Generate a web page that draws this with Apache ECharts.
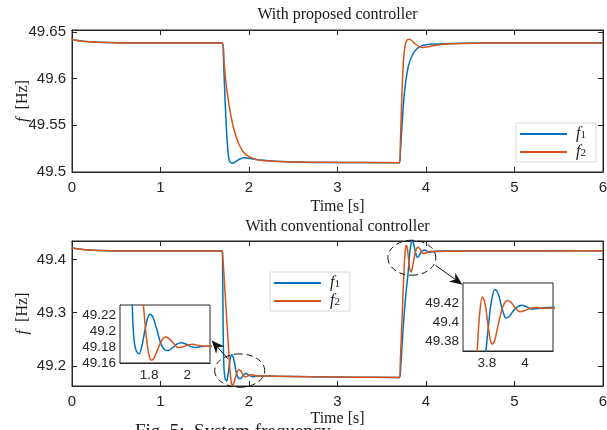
<!DOCTYPE html>
<html>
<head>
<meta charset="utf-8">
<script src="https://cdn.jsdelivr.net/npm/echarts@6/dist/echarts.min.js"></script>
<style>
  html, body { margin: 0; padding: 0; background: #fff; }
  #chart { width: 607px; height: 430px; }
</style>
</head>
<body>
<div id="chart"></div>
<script>
// ---- Frequency traces, time in s, frequency in Hz ----
// With proposed controller
const tProposedF1 = [0, 0.1, 0.2, 0.4, 0.7, 1.70, 1.71, 1.72, 1.74, 1.76, 1.78, 1.81, 1.84, 1.88, 1.94, 2.0, 2.1, 2.3, 2.6, 3.0, 3.70, 3.71, 3.72, 3.74, 3.76, 3.80, 3.85, 3.90, 3.95, 4.0, 4.1, 4.3, 4.6, 6.0];
const proposedF1  = [49.6418, 49.6402, 49.6393, 49.6385, 49.638, 49.638, 49.625, 49.600, 49.555, 49.525, 49.512, 49.5094, 49.5105, 49.513, 49.5152, 49.5147, 49.513, 49.5115, 49.5105, 49.5102, 49.510, 49.52, 49.536, 49.566, 49.588, 49.613, 49.626, 49.6322, 49.635, 49.6362, 49.637, 49.6376, 49.638, 49.638];
const tProposedF2 = [0, 0.1, 0.2, 0.4, 0.7, 1.70, 1.72, 1.75, 1.80, 1.85, 1.90, 1.95, 2.0, 2.1, 2.2, 2.4, 3.0, 3.70, 3.71, 3.72, 3.73, 3.75, 3.77, 3.79, 3.81, 3.84, 3.88, 3.93, 3.97, 4.02, 4.1, 4.2, 4.4, 4.7, 6.0];
const proposedF2  = [49.6418, 49.6402, 49.6393, 49.6385, 49.638, 49.638, 49.615, 49.588, 49.558, 49.539, 49.527, 49.520, 49.5165, 49.513, 49.512, 49.511, 49.5103, 49.510, 49.53, 49.56, 49.588, 49.625, 49.638, 49.6415, 49.642, 49.6405, 49.637, 49.634, 49.6333, 49.634, 49.6355, 49.6367, 49.6376, 49.638, 49.638];

// With conventional controller
const tConvF1 = [0, 0.1, 0.25, 0.5, 0.8, 1.695, 1.70, 1.703, 1.707, 1.71, 1.715, 1.722, 1.732, 1.746, 1.76, 1.775, 1.79, 1.805, 1.82, 1.84, 1.86, 1.88, 1.899, 1.92, 1.945, 1.969, 1.995, 2.02, 2.045, 2.075, 2.11, 2.3, 2.7, 3.2, 3.70, 3.715, 3.73, 3.75, 3.77, 3.785, 3.795, 3.81, 3.825, 3.842, 3.86, 3.875, 3.89, 3.9, 3.915, 3.935, 3.96, 3.983, 4.01, 4.036, 4.065, 4.1, 4.2, 4.6, 6.0];
const convF1  = [49.422, 49.4195, 49.4175, 49.4163, 49.416, 49.416, 49.41, 49.36, 49.29, 49.24, 49.205, 49.185, 49.175, 49.1715, 49.18, 49.198, 49.215, 49.221, 49.217, 49.202, 49.185, 49.177, 49.1755, 49.1785, 49.1835, 49.1855, 49.1835, 49.1805, 49.1795, 49.1805, 49.181, 49.1805, 49.1795, 49.1785, 49.178, 49.20, 49.24, 49.29, 49.33, 49.355, 49.37, 49.40, 49.424, 49.435, 49.43, 49.418, 49.408, 49.4045, 49.4055, 49.411, 49.4163, 49.4182, 49.4163, 49.4138, 49.4145, 49.4155, 49.416, 49.4163, 49.4165];
const tConvF2 = [0, 0.1, 0.25, 0.5, 0.8, 1.695, 1.70, 1.71, 1.725, 1.74, 1.755, 1.769, 1.785, 1.80, 1.812, 1.825, 1.845, 1.865, 1.885, 1.905, 1.93, 1.951, 1.975, 2.0, 2.03, 2.06, 2.1, 2.3, 2.7, 3.2, 3.70, 3.71, 3.72, 3.73, 3.74, 3.749, 3.76, 3.776, 3.79, 3.805, 3.818, 3.828, 3.84, 3.86, 3.885, 3.909, 3.93, 3.952, 3.974, 4.0, 4.03, 4.06, 4.1, 4.2, 4.5, 6.0];
const convF2  = [49.422, 49.4195, 49.4175, 49.4163, 49.416, 49.416, 49.414, 49.39, 49.35, 49.31, 49.27, 49.233, 49.192, 49.1685, 49.1634, 49.166, 49.177, 49.188, 49.1926, 49.1905, 49.184, 49.1793, 49.18, 49.1822, 49.1834, 49.182, 49.181, 49.1805, 49.1795, 49.1785, 49.178, 49.21, 49.25, 49.29, 49.335, 49.37, 49.405, 49.427, 49.42, 49.398, 49.381, 49.3768, 49.38, 49.398, 49.417, 49.4232, 49.4205, 49.4145, 49.4112, 49.4125, 49.415, 49.4157, 49.415, 49.4155, 49.416, 49.4165];

// ---- Tick values and labels ----
const timeTicks = [0, 1, 2, 3, 4, 5, 6];
const timeTickLabels = ['0', '1', '2', '3', '4', '5', '6'];
const propTicks = [49.5, 49.55, 49.6, 49.65];
const propTickLabels = ['49.5', '49.55', '49.6', '49.65'];
const convTicks = [49.2, 49.3, 49.4];
const convTickLabels = ['49.2', '49.3', '49.4'];
const zoomDropTimeTicks = [1.8, 2.0];
const zoomDropTimeLabels = ['1.8', '2'];
const zoomDropTicks = [49.16, 49.18, 49.2, 49.22];
const zoomDropTickLabels = ['49.16', '49.18', '49.2', '49.22'];
const zoomRiseTimeTicks = [3.8, 4.0];
const zoomRiseTimeLabels = ['3.8', '4'];
const zoomRiseTicks = [49.38, 49.4, 49.42];
const zoomRiseTickLabels = ['49.38', '49.4', '49.42'];

const seriesNames = ['f1', 'f2'];

// ---- Styling ----
const BLUE = '#0072BD';
const ORANGE = '#D95319';
const INK = '#262626';
const SANS = '"Liberation Sans", Arial, sans-serif';
const SERIF = '"Liberation Serif", "Times New Roman", serif';

const pair = (ts, vs) => ts.map((t, i) => [t, vs[i]]);
const lookup = (vals, labels) => v => {
  const i = vals.findIndex(x => Math.abs(x - v) < 1e-6);
  return i >= 0 ? labels[i] : '';
};

function axis(o) {
  const base = {
    type: 'value',
    gridIndex: o.grid,
    min: o.min,
    max: o.max,
    position: o.position,
    axisLine: { show: true, onZero: false, lineStyle: { color: INK, width: 1 } },
    splitLine: { show: false },
    axisTick: {
      show: true, inside: true, length: o.tickLen || 5,
      lineStyle: { color: INK, width: 1 },
      customValues: o.ticks
    },
    axisLabel: o.labels ? {
      show: true,
      customValues: o.ticks,
      formatter: lookup(o.ticks, o.labels),
      fontFamily: SANS, fontSize: o.fontSize || 15, color: INK,
      margin: o.margin || 6,
      showMinLabel: true, showMaxLabel: true
    } : { show: false }
  };
  return Object.assign(base, o.extra || {});
}

const nameStyleX = { fontFamily: SERIF, fontSize: 16, color: '#1a1a1a' };
const nameStyleY = {
  fontFamily: SERIF, fontSize: 16, color: '#1a1a1a',
  rich: { i: { fontFamily: SERIF, fontStyle: 'italic', fontSize: 16, color: '#1a1a1a' } }
};
const yName = { name: '{i|f}  [Hz]', nameLocation: 'middle', nameGap: 41, nameRotate: 90,
  nameMoveOverlap: false, nameTextStyle: nameStyleY };

const gridBox = { show: true, borderColor: INK, borderWidth: 1, backgroundColor: '#fff', containLabel: false, outerBoundsMode: 'none' };

const lineSeries = (name, color, x, y, data, z) => ({
  type: 'line', name, xAxisIndex: x, yAxisIndex: y, data,
  showSymbol: false, symbol: 'none', smooth: 0.35,
  lineStyle: { color, width: 1.5 }, itemStyle: { color },
  clip: true, animation: false, z: z || 2
});

const legendRich = {
  i: { fontFamily: SERIF, fontStyle: 'italic', fontSize: 16, lineHeight: 14, color: '#1a1a1a', verticalAlign: 'middle', padding: [0, 0, 0, 4] },
  s: { fontFamily: SERIF, fontSize: 11, lineHeight: 8, color: '#1a1a1a', verticalAlign: 'bottom' }
};
const legendBase = {
  orient: 'vertical', icon: 'rect', itemWidth: 47, itemHeight: 2, itemGap: 2,
  padding: [3, 10, 2, 4], backgroundColor: '#fff', borderColor: '#d8d8d8', borderWidth: 1,
  selectedMode: false, data: seriesNames,
  formatter: n => '{i|f}{s|' + n.slice(1) + '}',
  textStyle: { rich: legendRich }
};

const chart = echarts.init(document.getElementById('chart'), null, { renderer: 'canvas' });

chart.setOption({
  animation: false,
  backgroundColor: '#fff',
  grid: [
    Object.assign({ left: 72, top: 30, width: 531, height: 142 }, gridBox),
    Object.assign({ left: 72, top: 241, width: 531, height: 145 }, gridBox),
    Object.assign({ left: 120, top: 305, width: 90, height: 58, z: 5 }, gridBox),
    Object.assign({ left: 463, top: 283, width: 90, height: 68, z: 5 }, gridBox)
  ],
  xAxis: [
    axis({ grid: 0, min: 0, max: 6, ticks: timeTicks, labels: timeTickLabels, margin: 8,
      extra: { name: 'Time [s]', nameLocation: 'middle', nameGap: 27, nameTextStyle: nameStyleX } }),
    axis({ grid: 0, min: 0, max: 6, ticks: timeTicks, position: 'top' }),
    axis({ grid: 1, min: 0, max: 6, ticks: timeTicks, labels: timeTickLabels, margin: 8,
      extra: { name: 'Time [s]', nameLocation: 'middle', nameGap: 25, nameTextStyle: nameStyleX } }),
    axis({ grid: 1, min: 0, max: 6, ticks: timeTicks, position: 'top' }),
    axis({ grid: 2, min: 1.646, max: 2.12, ticks: zoomDropTimeTicks, labels: zoomDropTimeLabels, fontSize: 13.5, tickLen: 3, margin: 5 }),
    axis({ grid: 3, min: 3.674, max: 4.148, ticks: zoomRiseTimeTicks, labels: zoomRiseTimeLabels, fontSize: 13.5, tickLen: 3, margin: 5 })
  ],
  yAxis: [
    axis({ grid: 0, min: 49.5, max: 49.652, ticks: propTicks, labels: propTickLabels, extra: yName }),
    axis({ grid: 0, min: 49.5, max: 49.652, ticks: propTicks, position: 'right' }),
    axis({ grid: 1, min: 49.162, max: 49.435, ticks: convTicks, labels: convTickLabels, extra: yName }),
    axis({ grid: 1, min: 49.162, max: 49.435, ticks: convTicks, position: 'right' }),
    axis({ grid: 2, min: 49.16, max: 49.2326, ticks: zoomDropTicks, labels: zoomDropTickLabels, fontSize: 13.5, tickLen: 3, margin: 4 }),
    axis({ grid: 3, min: 49.3693, max: 49.4418, ticks: zoomRiseTicks, labels: zoomRiseTickLabels, fontSize: 13.5, tickLen: 3, margin: 4 })
  ],
  legend: [
    Object.assign({ left: 516, top: 123 }, legendBase),
    Object.assign({ left: 270, top: 272 }, legendBase)
  ],
  series: [
    lineSeries('f1', BLUE, 0, 0, pair(tProposedF1, proposedF1)),
    lineSeries('f2', ORANGE, 0, 0, pair(tProposedF2, proposedF2)),
    lineSeries('f1', BLUE, 2, 2, pair(tConvF1, convF1)),
    lineSeries('f2', ORANGE, 2, 2, pair(tConvF2, convF2)),
    lineSeries('f1', BLUE, 4, 4, pair(tConvF1, convF1), 6),
    lineSeries('f2', ORANGE, 4, 4, pair(tConvF2, convF2), 6),
    lineSeries('f1', BLUE, 5, 5, pair(tConvF1, convF1), 6),
    lineSeries('f2', ORANGE, 5, 5, pair(tConvF2, convF2), 6)
  ]
});

// ---- Annotations: titles, dashed ellipses around the transients, arrows to the zoom boxes ----
const px = (t, f) => chart.convertToPixel({ xAxisIndex: 2, yAxisIndex: 2 }, [t, f]);

function dashedEllipse(c, rx, ry) {
  const k = 0.5523, [cx, cy] = c;
  const segs = [
    [cx + rx, cy, cx + rx, cy - k * ry, cx + k * rx, cy - ry, cx, cy - ry],
    [cx, cy - ry, cx - k * rx, cy - ry, cx - rx, cy - k * ry, cx - rx, cy],
    [cx - rx, cy, cx - rx, cy + k * ry, cx - k * rx, cy + ry, cx, cy + ry],
    [cx, cy + ry, cx + k * rx, cy + ry, cx + rx, cy + k * ry, cx + rx, cy]
  ];
  return segs.map(s => ({
    type: 'bezierCurve', z: 100, silent: true,
    shape: { x1: s[0], y1: s[1], cpx1: s[2], cpy1: s[3], cpx2: s[4], cpy2: s[5], x2: s[6], y2: s[7] },
    style: { stroke: '#111', lineWidth: 1, lineDash: [6, 4], fill: null }
  }));
}

function arrow(from, to) {
  const dx = to[0] - from[0], dy = to[1] - from[1];
  const len = Math.hypot(dx, dy), ux = dx / len, uy = dy / len, nx = -uy, ny = ux;
  const L = 13, W = 5.5, N = 9;
  return [
    { type: 'line', z: 100, silent: true,
      shape: { x1: from[0], y1: from[1], x2: to[0] - ux * N, y2: to[1] - uy * N },
      style: { stroke: '#111', lineWidth: 1 } },
    { type: 'polygon', z: 101, silent: true,
      shape: { points: [
        [to[0], to[1]],
        [to[0] - ux * L + nx * W, to[1] - uy * L + ny * W],
        [to[0] - ux * N, to[1] - uy * N],
        [to[0] - ux * L - nx * W, to[1] - uy * L - ny * W]
      ] },
      style: { fill: '#111' } }
  ];
}

const titleText = (text, x, y) => ({
  type: 'text', x, y, z: 100, silent: true,
  style: { text, align: 'center', verticalAlign: 'middle', font: '16px ' + SERIF, fill: '#1a1a1a' }
});

const topCenter = chart.convertToPixel({ xAxisIndex: 0, yAxisIndex: 0 }, [3, 49.652]);
const botCenter = chart.convertToPixel({ xAxisIndex: 2, yAxisIndex: 2 }, [3, 49.435]);

chart.setOption({
  graphic: [].concat(
    [titleText('With proposed controller', topCenter[0], topCenter[1] - 15)],
    [titleText('With conventional controller', botCenter[0], botCenter[1] - 14)],
    dashedEllipse(px(1.895, 49.191), 25, 16.7),
    dashedEllipse(px(3.84, 49.4035), 24, 17.5),
    arrow(px(1.762, 49.2132), px(1.578, 49.2478)),
    arrow(px(4.106, 49.3893), px(4.413, 49.3528)),
    [{ type: 'text', x: 135, y: 432, z: 100, silent: true,
       style: { text: 'Fig. 5:  System frequency', verticalAlign: 'middle', font: '19px ' + SERIF, fill: '#1a1a1a' } }]
  )
});
</script>
</body>
</html>
